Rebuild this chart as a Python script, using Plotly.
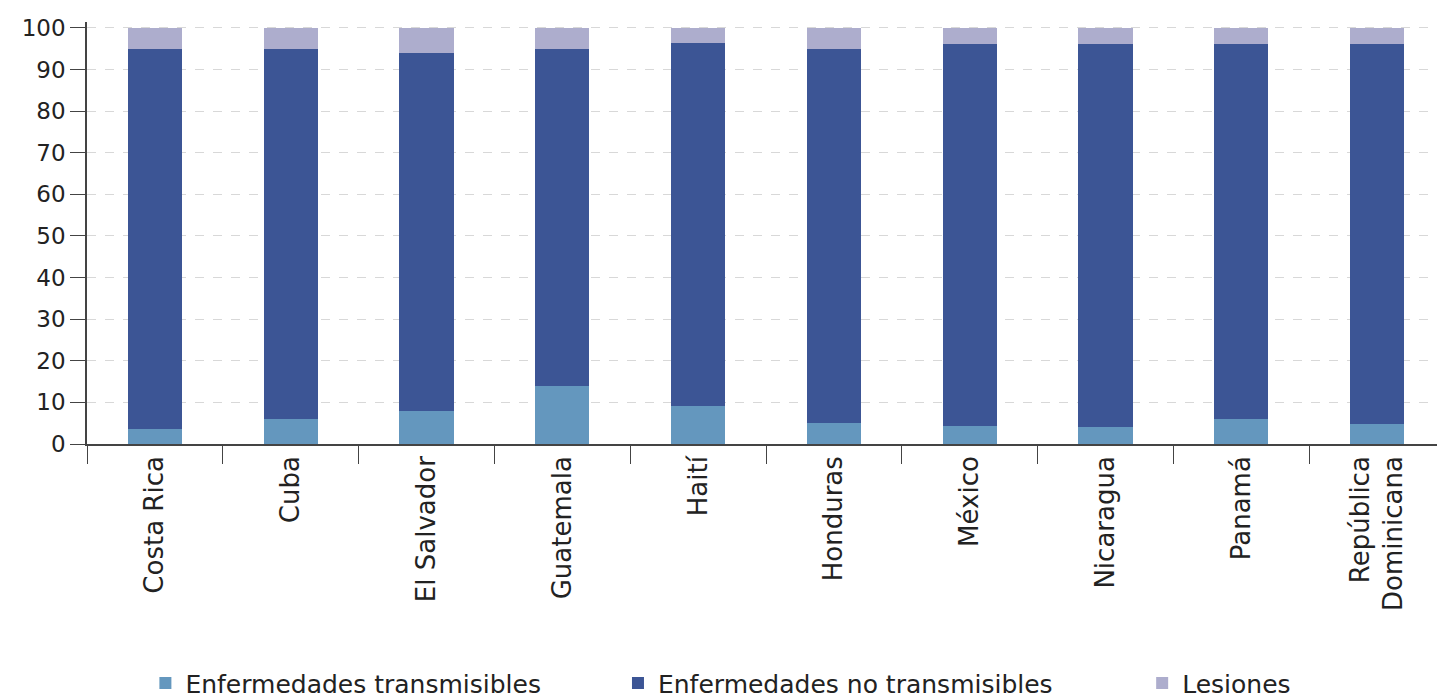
import plotly.graph_objects as go

paises = ["Costa Rica", "Cuba", "El Salvador", "Guatemala", "Haití", "Honduras",
          "México", "Nicaragua", "Panamá", "República<br>Dominicana"]
transmisibles = [3.6, 6.0, 8.0, 13.9, 9.1, 5.1, 4.3, 4.0, 6.0, 4.8]
no_transmisibles = [91.4, 89.0, 86.0, 81.0, 87.3, 89.9, 91.7, 92.0, 90.0, 91.2]
lesiones = [5.0, 5.0, 6.0, 5.1, 3.6, 5.0, 4.0, 4.0, 4.0, 4.0]

series = [
    ("Enfermedades transmisibles", transmisibles, "#6497be", "legend"),
    ("Enfermedades no transmisibles", no_transmisibles, "#3c5595", "legend2"),
    ("Lesiones", lesiones, "#adadcd", "legend3"),
]

fig = go.Figure()
for nombre, valores, color, leg in series:
    fig.add_trace(go.Bar(x=paises, y=valores, name=nombre, marker_color=color,
                         marker_line_width=0, legend=leg, showlegend=True))

font = dict(family="DejaVu Sans", size=20, color="#222222")
leg_style = dict(orientation="h", yanchor="middle", y=-0.567, xanchor="left",
                 font=dict(family="DejaVu Sans", size=25, color="#222222"),
                 itemwidth=30, bgcolor="rgba(0,0,0,0)")

# the page adds an 8px body margin, so the figure is a bit smaller than the window
fig.update_layout(
    width=1437, height=691,
    barmode="stack", bargap=0.6,
    plot_bgcolor="white", paper_bgcolor="white",
    font=font,
    showlegend=True,
    margin=dict(l=79, r=0, t=14, b=255, autoexpand=False),
    legend=dict(leg_style, x=0.043),
    legend2=dict(leg_style, x=0.391),
    legend3=dict(leg_style, x=0.777),
)
fig.update_yaxes(range=[0, 101.4], dtick=10, showline=True, linecolor="#444444",
                 linewidth=1.5, ticks="outside", ticklen=15, tickcolor="#444444",
                 showgrid=True, gridcolor="#d8d8d8", griddash="dash", gridwidth=1,
                 zeroline=False, tickfont=dict(size=23), automargin=False)
fig.update_xaxes(showline=True, linecolor="#444444", linewidth=1.5, ticks="outside",
                 tickson="boundaries", ticklen=18, tickcolor="#444444", tickangle=-90,
                 tickfont=dict(size=26), automargin=False)

fig.write_html("out.html")
